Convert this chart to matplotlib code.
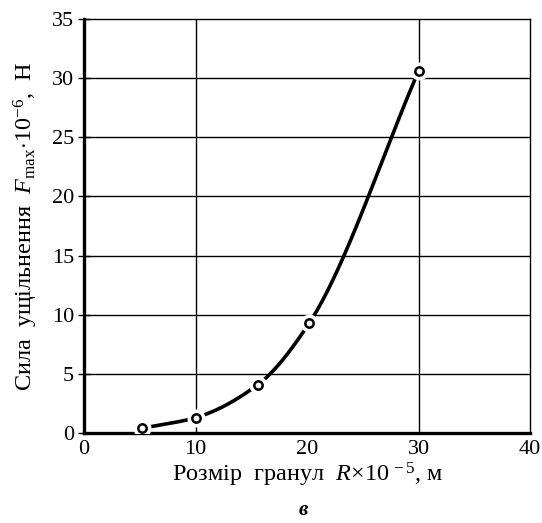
import numpy as np
import matplotlib
matplotlib.use("Agg")
import matplotlib.pyplot as plt

# data
size_R = [5.2, 10.0, 15.6, 20.2, 30.0]
force_F = [0.4, 1.3, 4.1, 9.3, 30.6]
x_ticks = [0, 10, 20, 30, 40]
y_ticks = [0, 5, 10, 15, 20, 25, 30, 35]

plt.rcParams['font.family'] = ['Liberation Serif', 'DejaVu Serif']
plt.rcParams['mathtext.fontset'] = 'custom'
plt.rcParams['mathtext.rm'] = 'Liberation Serif'
plt.rcParams['mathtext.it'] = 'Liberation Serif:italic'

def pchip(x, y, xs):
    x = np.asarray(x, float); y = np.asarray(y, float)
    h = np.diff(x); d = np.diff(y) / h
    m = np.zeros_like(y)
    for k in range(1, len(x) - 1):
        if d[k-1] * d[k] > 0:
            w1 = 2*h[k] + h[k-1]; w2 = h[k] + 2*h[k-1]
            m[k] = (w1 + w2) / (w1/d[k-1] + w2/d[k])
    m[0] = d[0]; m[-1] = d[-1]
    out = np.empty_like(xs)
    for i, xv in enumerate(xs):
        k = min(np.searchsorted(x, xv) - 1, len(x) - 2); k = max(k, 0)
        t = (xv - x[k]) / h[k]
        h00 = 2*t**3 - 3*t**2 + 1; h10 = t**3 - 2*t**2 + t
        h01 = -2*t**3 + 3*t**2; h11 = t**3 - t**2
        out[i] = h00*y[k] + h10*h[k]*m[k] + h01*y[k+1] + h11*h[k]*m[k+1]
    return out

fig = plt.figure(figsize=(5.42, 5.23), dpi=100)
ax = fig.add_axes([0.155, 0.172, 0.823, 0.792])
ax.set_xlim(0, 40)
ax.set_ylim(0, 35)

# grid
for yv in y_ticks[1:-1]:
    ax.axhline(yv, color='black', lw=1.0, zorder=1)
for xv in [10, 30]:
    ax.axvline(xv, color='black', lw=1.0, zorder=1)

xs = np.linspace(size_R[0], size_R[-1], 300)
ax.plot(xs, pchip(size_R, force_F, xs), color='black', lw=2.6, zorder=2,
        solid_capstyle='round')
ax.plot(size_R, force_F, 'o', ms=12, mfc='white', mec='white', zorder=3)
ax.plot(size_R, force_F, 'o', ms=6, mfc='white', mec='black', mew=1.8, zorder=4)

ax.set_xticks(x_ticks)
ax.set_yticks(y_ticks)
ax.set_xticks([0, 10, 30], minor=True)
ax.tick_params(axis='x', which='major', length=0, pad=5, labelsize=16)
ax.tick_params(axis='x', which='minor', direction='inout', length=8, width=1.0)
ax.tick_params(axis='y', which='major', direction='inout', length=8, width=1.0,
               pad=3, labelsize=16)
ax.spines['left'].set_linewidth(2.4)
ax.spines['bottom'].set_linewidth(2.4)
ax.spines['top'].set_linewidth(1.0)
ax.spines['right'].set_linewidth(1.0)

ax.set_xlabel(r'Розмір  гранул  $\mathit{R}$$\times$10$^{\,-5}$, м', fontsize=17.5, labelpad=1)
ax.set_ylabel(r'Сила  ущільнення  $\mathit{F}_{\mathrm{max}}$$\cdot$10$^{-6}$,  Н',
              fontsize=17.5, labelpad=9)

fig.text(0.56, 0.006, 'в', fontsize=15, style='italic', fontweight='bold',
         ha='center', va='bottom')

fig.savefig('out.png', dpi=100)
